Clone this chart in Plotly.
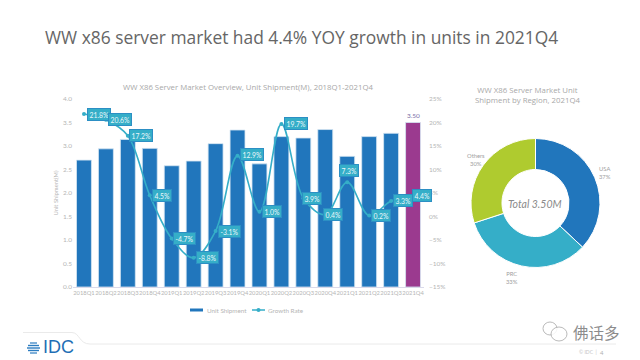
import plotly.graph_objects as go

quarters = ["2018Q1","2018Q2","2018Q3","2018Q4","2019Q1","2019Q2","2019Q3","2019Q4",
            "2020Q1","2020Q2","2020Q3","2020Q4","2021Q1","2021Q2","2021Q3","2021Q4"]
shipments = [2.70,2.94,3.14,2.95,2.58,2.68,3.05,3.34,2.62,3.20,3.17,3.35,2.78,3.20,3.27,3.50]
growth = [21.8,20.6,17.2,4.5,-4.7,-8.8,-3.1,12.9,1.0,19.7,3.9,0.4,7.3,0.2,3.3,4.4]
regions = ["USA","PRC","Others"]
region_share = [37,33,30]
region_colors = ["#2176BC","#35AEC8","#AFCB2F"]

W, H = 640, 360
GRAY = "#B5B5B5"
FONT = "Lato"
def px(x): return x / W
def py(y): return 1 - y / H

bar_colors = ["#2176BC"] * 15 + ["#9B3A8F"]
label_dx = [15,14,13,12,13,14,14,14,13,15,9,8,2,12,12,9]
label_dy = [0,0,0,0,0,0,0,1,0,0,0,0,12,0,0,0]

fig = go.Figure()
fig.add_bar(x=quarters, y=shipments, name="Unit Shipment", marker=dict(color=bar_colors, line=dict(color="#D5E6F3", width=0.8)),
            width=0.68, yaxis="y", showlegend=False)
fig.add_scatter(x=quarters, y=growth, name="Growth Rate", yaxis="y2", mode="lines+markers", showlegend=False,
                line=dict(color="#35AEC8", width=1.6, shape="spline", smoothing=1.0),
                marker=dict(color="#35AEC8", size=4))
fig.add_pie(labels=regions, values=region_share, hole=0.52, sort=False, direction="clockwise", rotation=0,
            marker=dict(colors=region_colors, line=dict(color="#FFFFFF", width=1)),
            textinfo="none", showlegend=False, hoverinfo="label+percent",
            domain=dict(x=[px(471), px(600)], y=[py(268), py(138)]))

ann = []
def text(x, y, s, size=7, color=GRAY, **kw):
    family = kw.pop("family", FONT)
    kw.setdefault("xanchor", "center")
    kw.setdefault("yanchor", "middle")
    ann.append(dict(xref="paper", yref="paper", x=px(x), y=py(y), text=s, showarrow=False,
                    font=dict(size=size, color=color, family=family), **kw))

for q, g, dx, dy, in zip(quarters, growth, label_dx, label_dy):
    ann.append(dict(xref="x", yref="y2", x=q, y=g, text=f"{g:.1f}%", showarrow=False, xshift=dx, yshift=dy,
                    font=dict(size=6.8, color="#EAF7FA", family=FONT), bgcolor="#35AEC8",
                    bordercolor="#2C8FC4", borderwidth=1, borderpad=1.5))
ann.append(dict(xref="x", yref="y", x=quarters[-1], y=shipments[-1], text=f"{shipments[-1]:.2f}", showarrow=False,
                yshift=7, font=dict(size=6.5, color="#7A6FA8", family=FONT)))

text(43, 37, "WW x86 server market had 4.4% YOY growth in units in 2021Q4", size=17.4, color="#666666", xanchor="left", family="Open Sans")
text(248, 87, "WW X86 Server Market Overview, Unit Shipment(M), 2018Q1-2021Q4", size=7.8, color="#A8A8A8", family="Open Sans")
text(527, 95, "WW X86 Server Market Unit<br>Shipment by Region, 2021Q4", size=7.8, color="#A8A8A8", family="Open Sans")
text(535, 204, "<i>Total 3.50M</i>", size=10.5, color="#8A8A8A")
for lab, share, x, y in zip(regions, region_share, [605, 512, 476], [172, 277, 159]):
    text(x, y, f"{lab}<br>{share}%", size=5.8, color="#A0A0A0")
text(205, 310, "Unit Shipment", size=6.3, xanchor="left")
text(266, 310, "Growth Rate", size=6.3, xanchor="left")
text(58.5, 347, "IDC", size=18, color="#1F6FB5", family="Liberation Sans")
text(588, 352, "© IDC  |", size=5, color="#C4C4C4")
text(602, 352, "4", size=6, color="#B0B0B0")
text(596, 332, "佛话多", size=15.5, color="#8C8C8C", family="Noto Sans CJK SC")

shapes = [
    dict(type="path", xref="paper", yref="paper", line=dict(color="#EAEAEA", width=1),
         path=f"M {px(23)} {py(332.5)} L {px(72)} {py(332.5)} C {px(80)} {py(333)} {px(79)} {py(344)} {px(90)} {py(344)} L {px(616)} {py(344)}"),
    dict(type="rect", xref="paper", yref="paper", x0=px(190), x1=px(203), y0=py(311.5), y1=py(308.5),
         fillcolor="#2176BC", line=dict(width=0)),
    dict(type="line", xref="paper", yref="paper", x0=px(252), x1=px(265), y0=py(310), y1=py(310),
         line=dict(color="#35AEC8", width=1.5)),
    dict(type="circle", xref="paper", yref="paper", x0=px(256.5), x1=px(260.5), y0=py(312), y1=py(308),
         fillcolor="#35AEC8", line=dict(width=0)),
]
for y0, x0, x1, w in [(343,30,37,1.2),(345.5,28,39,1.4),(348,27,40,1.4),(350.5,28,39,1.4),(353,30,37,1.2)]:
    shapes.append(dict(type="line", xref="paper", yref="paper", x0=px(x0), x1=px(x1), y0=py(y0), y1=py(y0),
                       line=dict(color="#2C7CC0", width=w)))
for x0, y0, x1, y1 in [(543,322,557,335),(551,327,567,341)]:
    shapes.append(dict(type="circle", xref="paper", yref="paper", x0=px(x0), x1=px(x1), y0=py(y0), y1=py(y1),
                       line=dict(color="#A8A8A8", width=0.8), fillcolor="rgba(255,255,255,0.85)"))

fig.update_layout(
    width=W, height=H, margin=dict(l=0, r=0, t=0, b=0, autoexpand=False), paper_bgcolor="white", plot_bgcolor="white",
    font=dict(family=FONT, color=GRAY, size=6.5), showlegend=False,
    xaxis=dict(domain=[px(73), px(424)], type="category", range=[-0.5, 15.5], showgrid=False, linecolor="#DADAEA", linewidth=1,
               ticks="", tickangle=0, automargin=False, tickfont=dict(size=5.8, color=GRAY)),
    yaxis=dict(domain=[py(287), py(99)], range=[0, 4], dtick=0.5, tickformat=".1f", showgrid=False, zeroline=False,
               automargin=False, tickfont=dict(size=6.5, color=GRAY),
               title=dict(text="Unit Shipment(M)", font=dict(size=5.8, color=GRAY), standoff=3)),
    yaxis2=dict(overlaying="y", side="right", anchor="x", range=[-15, 25], dtick=5, ticksuffix="%", showgrid=False, zeroline=False,
                automargin=False, ticklabelstandoff=4, tickfont=dict(size=6.5, color=GRAY)),
    annotations=ann, shapes=shapes,
)
fig.write_html("out.html", post_script="document.body.style.margin='0';", config=dict(displayModeBar=False))
